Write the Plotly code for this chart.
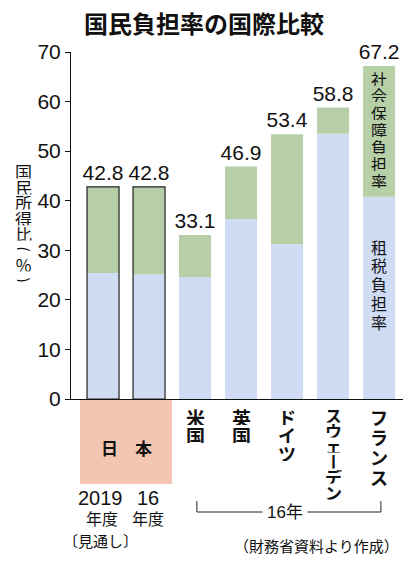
import plotly.graph_objects as go

# data (国民負担率, % of national income)
categories = ["2019年度", "16年度", "米国", "英国", "ドイツ", "スウェーデン", "フランス"]
tax_burden = [25.4, 25.1, 24.6, 36.3, 31.2, 53.5, 40.8]       # 租税負担率
social_burden = [17.4, 17.7, 8.5, 10.6, 22.2, 5.3, 26.4]      # 社会保障負担率
total_burden = [42.8, 42.8, 33.1, 46.9, 53.4, 58.8, 67.2]     # 国民負担率
total_labels = ["42.8", "42.8", "33.1", "46.9", "53.4", "58.8", "67.2"]
y_ticks = [0, 10, 20, 30, 40, 50, 60, 70]

BLUE = "#cfdcf3"
GREEN = "#b7cfa6"
SALMON = "#f2c6b1"
CJK = "Noto Sans CJK JP"
NUM = "Liberation Sans, Noto Sans CJK JP"

# plot area in pixels
L, R, T, B = 71, 403, 52, 399
W, H = R - L, B - T


def px(x):
    return (x - L) / W


def py(y):
    return (B - y) / H


fig = go.Figure()

fig.add_trace(go.Bar(
    x=categories, y=tax_burden, width=0.696,
    marker=dict(color=BLUE, line=dict(width=0)),
    hovertemplate="%{x}<br>租税負担率: %{y}<extra></extra>"
))
fig.add_trace(go.Bar(
    x=categories, y=social_burden, base=tax_burden, width=0.696,
    marker=dict(color=GREEN, line=dict(width=0)),
    hovertemplate="%{x}<br>社会保障負担率: %{y}<extra></extra>"
))
# outline for Japan + total labels
fig.add_trace(go.Bar(
    x=categories, y=total_burden, width=0.696,
    marker=dict(color="rgba(0,0,0,0)",
                line=dict(color="#222222", width=[1.2, 1.2, 0, 0, 0, 0, 0])),
    text=total_labels, textposition="outside", cliponaxis=False,
    constraintext="none",
    textfont=dict(family=NUM, size=21, color="#111111"),
    hoverinfo="skip"
))

annotations = []


def vtext(chars, x, y_first, step, size, weight="normal", xref="x", angles=None):
    # vertical (tategaki) text: one annotation per character
    for i, ch in enumerate(chars):
        a = dict(x=x, xref=xref, y=py(y_first + i * step), yref="paper",
                 text=ch, showarrow=False, xanchor="center", yanchor="middle",
                 height=step - 2, width=size + 4,
                 font=dict(family=CJK, size=size, color="#111111", weight=weight))
        if angles and angles[i]:
            a["textangle"] = angles[i]
        annotations.append(a)


# y axis title
vtext(["国", "民", "所", "得", "比", "(", "%", ")"], px(24), 172, 15.5, 17,
      xref="paper", angles=[0, 0, 0, 0, 0, 90, 0, 90])

# country labels under the axis
vtext(list("米国"), "米国", 417, 18, 19, "bold")
vtext(list("英国"), "英国", 417, 18, 19, "bold")
vtext(list("ドイツ"), "ドイツ", 417, 18, 18, "bold")
vtext(["ス", "ウ", "ェ", "丨", "デ", "ン"], "スウェーデン", 415, 15.4, 17, "bold")
vtext(list("フランス"), "フランス", 417, 20, 18, "bold")

# labels inside the France bar
vtext(list("社会保障負担率"), "フランス", 78, 17, 16)
vtext(list("租税負担率"), "フランス", 247, 18.75, 16)

# Japan box label
annotations.append(dict(x=0.5, xref="x", y=py(447.5), yref="paper", text="日　本",
                        showarrow=False, xanchor="center", yanchor="middle",
                        font=dict(family=CJK, size=17, color="#111111", weight="bold")))

for x, ypos, txt, fam, size in [
    (px(100.5), 497.5, "2019", NUM, 20),
    (px(148), 497.5, "16", NUM, 20),
    (px(101.5), 518, "年度", CJK, 16),
    (px(147.5), 518, "年度", CJK, 16),
    (px(100), 540, "〔見通し〕", CJK, 15),
]:
    annotations.append(dict(x=x, xref="paper", y=py(ypos), yref="paper", text=txt,
                            showarrow=False, xanchor="center", yanchor="middle",
                            font=dict(family=fam, size=size, color="#111111")))

annotations.append(dict(x=3.96, xref="x", y=py(512), yref="paper", text="16年",
                        showarrow=False, xanchor="center", yanchor="middle",
                        bgcolor="white", borderpad=4,
                        font=dict(family=NUM, size=17, color="#111111")))
annotations.append(dict(x=px(401), xref="paper", y=py(545), yref="paper",
                        text="（財務省資料より作成）", showarrow=False,
                        xanchor="right", yanchor="middle",
                        font=dict(family=CJK, size=15, color="#111111")))

shapes = [
    dict(type="rect", xref="x", yref="paper", x0=-0.5, x1=1.5, y0=0, y1=py(484),
         fillcolor=SALMON, line=dict(width=0), layer="below"),
    dict(type="line", xref="x", yref="paper", x0=2.04, x1=2.04, y0=py(501), y1=py(512),
         line=dict(color="#222222", width=1)),
    dict(type="line", xref="x", yref="paper", x0=6.04, x1=6.04, y0=py(501), y1=py(512),
         line=dict(color="#222222", width=1)),
    dict(type="line", xref="x", yref="paper", x0=2.04, x1=6.04, y0=py(512), y1=py(512),
         line=dict(color="#222222", width=1)),
]

fig.update_layout(
    width=420, height=570,
    margin=dict(l=L, r=420 - R, t=T, b=570 - B),
    barmode="overlay",
    showlegend=False,
    plot_bgcolor="white", paper_bgcolor="white",
    title=dict(text="国民負担率の国際比較", x=204 / 420, xanchor="center",
               y=1 - 25 / 570, yanchor="middle", yref="container",
               font=dict(family=CJK, size=24, color="#111111", weight="bold")),
    xaxis=dict(range=[-0.696, 6.52], showticklabels=False, ticks="",
               showline=True, linecolor="#111111", linewidth=1, showgrid=False,
               zeroline=False, fixedrange=True),
    yaxis=dict(range=[0, 70], tickvals=y_ticks, ticks="outside", ticklen=5,
               tickcolor="#111111", showline=True, linecolor="#111111", linewidth=1,
               showgrid=False, zeroline=False,
               tickfont=dict(family=NUM, size=21, color="#111111")),
    annotations=annotations,
    shapes=shapes,
)

# drop the page's default body margin so the chart sits at the window corner
fig.write_html("out.html", config={"displayModeBar": False},
               post_script="document.body.style.margin='0';")
